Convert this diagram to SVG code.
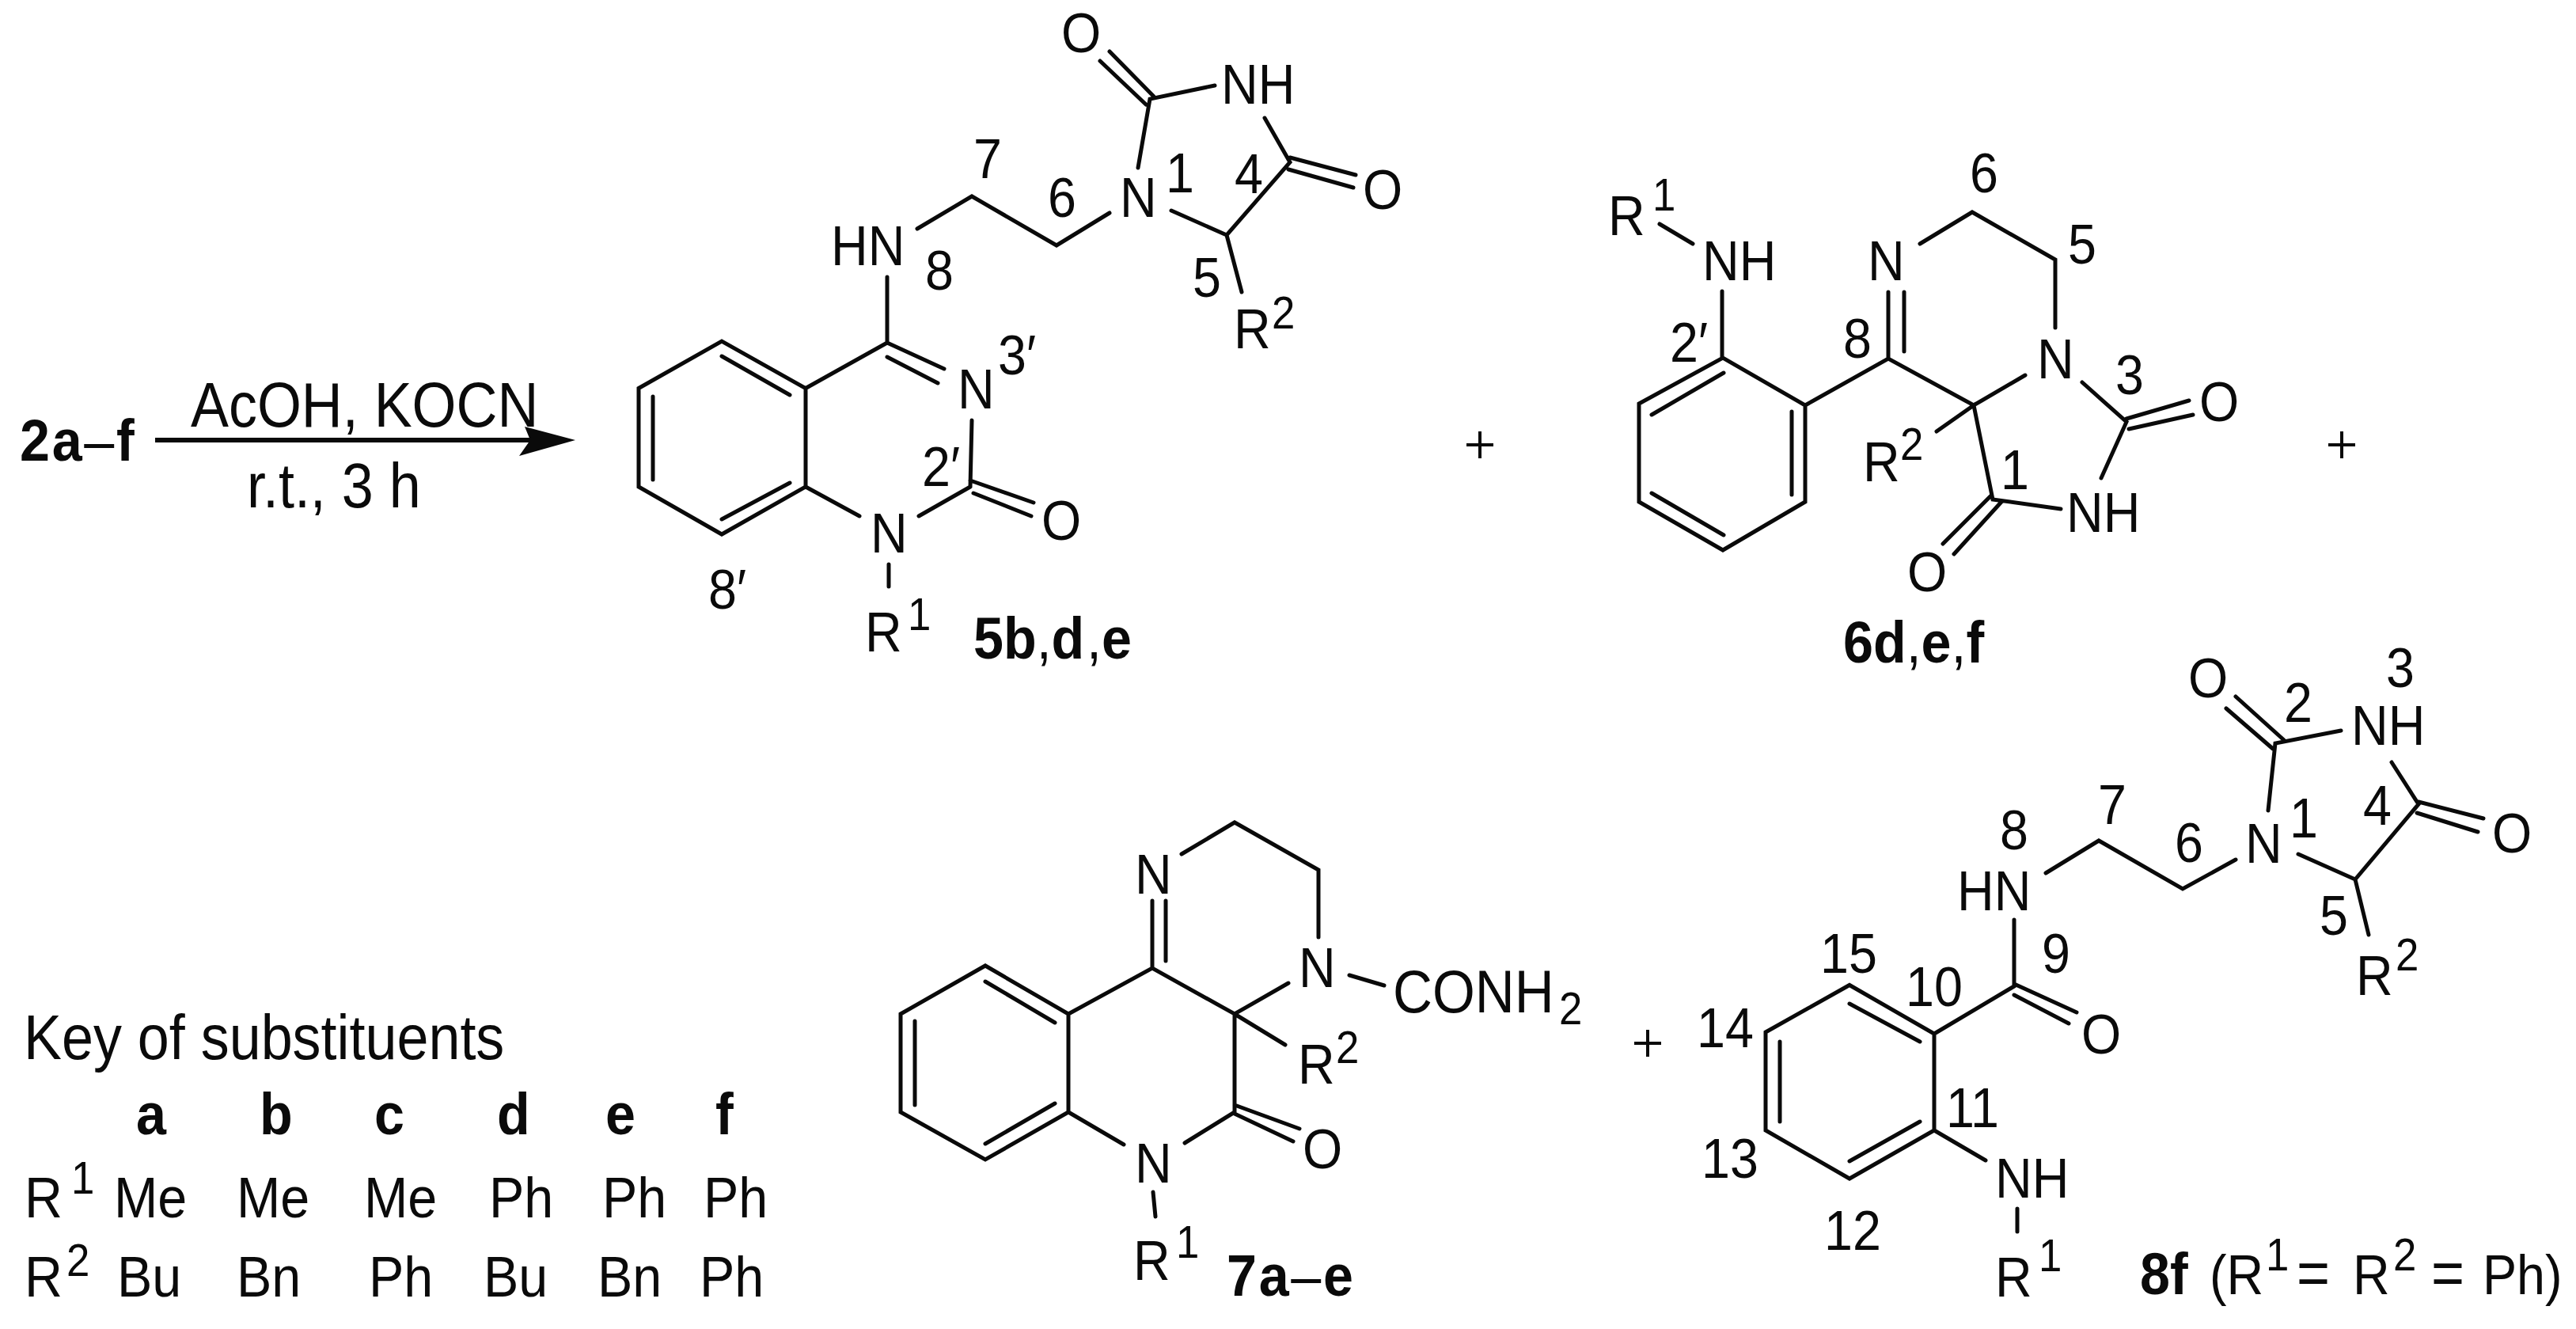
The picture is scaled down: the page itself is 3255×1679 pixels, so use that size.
<svg xmlns="http://www.w3.org/2000/svg" width="3255" height="1679" viewBox="0 0 3255 1679">
<style>
text{font-family:"Liberation Sans",Arial,sans-serif;font-size:71px;fill:#0a0a0a;transform-box:fill-box;transform-origin:0 0;transform:scaleX(.91)}
.b{font-weight:700;font-size:75px}
.ls{letter-spacing:3px}
.k{font-size:73px}
.r{font-size:79px}
.c{font-size:76px}
.n{font-weight:400}
.s{font-size:58px}
.bond{fill:none;stroke:#0a0a0a;stroke-width:5;stroke-linecap:round;stroke-linejoin:miter}
.arr{fill:none;stroke:#0a0a0a;stroke-width:6}
.plus{fill:none;stroke:#0a0a0a;stroke-width:4}
</style>
<rect width="3255" height="1679" fill="#fff"/>
<g id="connectors">
<path class="arr" d="M196 556H672"/>
<path d="M727 556L663 539L670 556L656 576Z" fill="#0a0a0a"/>
<path class="bond" d="M807 490.5L912 431L1018 490.5V615L912 675L807 615ZM825 501V606M912 450L998 499M912 656L998 610M1018 490.5L1121 433M1121 433L1193 466M1121 451L1185 484M1121 350V433M1228 531L1226 615M1226 607L1306 635M1230 623L1303 652M1018 615L1086 652M1226 615L1161 652M1123 713V741M1159 289L1228 248L1335 310L1402 269M1438 212L1453 125L1535 108M1390 77L1448 132M1402 65L1458 122M1598 149L1630 205L1550 297L1480 266M1630 199L1713 221M1628 214L1710 237M1550 297L1569 369"/>
<path class="bond" d="M2071 510L2177 452L2281 512V634L2177 695L2071 634ZM2178 471L2087 524M2264 520V625M2087 623L2178 676M2176 368V452M2097 283L2139 308M2281 512L2386 453L2494 512L2559 474M2386 369V453M2406 369V444M2426 308L2492 268L2597 328V414M2631 483L2687 533L2655 604M2687 529L2766 506M2690 542L2771 524M2604 643L2518 631L2494 512L2447 545M2515 627L2455 687M2529 634L2469 700"/>
<path class="bond" d="M1138 1281L1245 1220L1350 1281V1405L1245 1465L1138 1405ZM1245 1240L1333 1292M1156 1290V1396M1245 1445L1333 1394M1350 1281L1456 1223L1560 1281L1628 1242M1456 1138V1223M1473 1138V1214M1493 1079L1560 1039L1666 1099V1184M1705 1232L1749 1245M1560 1281L1624 1320M1560 1281V1405L1497 1444M1560 1396L1642 1426M1560 1407L1634 1442M1350 1405L1420 1446M1457 1506L1460 1537"/>
<path class="bond" d="M2231 1304L2337 1244.5L2444 1306V1428L2337 1489L2231 1428ZM2337 1268L2426 1316M2249 1316V1417M2337 1467L2426 1417M2444 1306L2545 1246V1162M2545 1243L2624 1279M2545 1257L2614 1293M2444 1428L2509 1466M2549 1527V1556M2585 1103L2652 1062L2758 1123L2825 1086M2866 1024L2875 939L2958 923M2813 895L2872 946M2825 880L2886 935M3022 963L3056 1016L2976 1111L2904 1079M3056 1013L3138 1034M3054 1027L3131 1051M2976 1111L2993 1181"/>
<path class="plus" d="M1853 562H1887M1870 545V579M2942 562H2976M2959 545V579M2065 1318H2099M2082 1301V1335"/>
</g>
<g id="reaction">
<text class="b ls" x="25" y="582">2a<tspan class="n">–</tspan>f</text>
<text class="r" x="241" y="539">AcOH, KOCN</text>
<text class="r" x="312" y="641">r.t., 3 h</text>
</g>
<g id="compound-5">
<text x="1050" y="335">HN</text><text x="1169" y="366">8</text><text x="1230" y="225">7</text><text x="1324" y="274">6</text>
<text x="1415" y="274">N</text><text x="1473" y="243">1</text><text x="1560" y="244">4</text><text x="1507" y="375">5</text>
<text x="1341" y="66">O</text><text x="1543" y="131">NH</text><text x="1722" y="264">O</text>
<text x="1559" y="440">R</text><text class="s" x="1607" y="415">2</text>
<text x="1210" y="516">N</text><text x="1261" y="473">3′</text><text x="1165" y="614">2′</text><text x="1316" y="682">O</text>
<text x="1100" y="698">N</text><text x="1093" y="823">R</text><text class="s" x="1147" y="796">1</text>
<text x="895" y="769">8′</text>
<text class="b" x="1230" y="832">5b<tspan class="n">,</tspan>d<tspan class="n" dx="3">,</tspan>e</text>
</g>
<g id="compound-6">
<text x="2032" y="297">R</text><text class="s" x="2088" y="266">1</text><text x="2151" y="354">NH</text><text x="2110" y="457">2′</text>
<text x="2360" y="354">N</text><text x="2329" y="452">8</text><text x="2489" y="243">6</text><text x="2613" y="333">5</text>
<text x="2574" y="478">N</text><text x="2673" y="498">3</text><text x="2779" y="532">O</text><text x="2611" y="672">NH</text>
<text x="2528" y="618">1</text><text x="2410" y="747">O</text><text x="2354" y="608">R</text><text class="s" x="2401" y="581">2</text>
<text class="b" x="2329" y="837">6d<tspan class="n">,</tspan>e<tspan class="n">,</tspan>f</text>
</g>
<g id="compound-7">
<text x="1434" y="1129">N</text><text x="1641" y="1247">N</text>
<text class="c" x="1760" y="1279">CONH</text><text class="s" x="1970" y="1294">2</text>
<text x="1640" y="1369">R</text><text class="s" x="1688" y="1343">2</text>
<text x="1646" y="1476">O</text><text x="1434" y="1494">N</text>
<text x="1432" y="1617">R</text><text class="s" x="1486" y="1589">1</text>
<text class="b ls" x="1550" y="1637">7a<tspan class="n">–</tspan>e</text>
</g>
<g id="compound-8">
<text x="2765" y="881">O</text><text x="2886" y="912">2</text><text x="3015" y="868">3</text><text x="2971" y="941">NH</text>
<text x="3149" y="1077">O</text><text x="2986" y="1042">4</text><text x="2893" y="1058">1</text><text x="2837" y="1090">N</text>
<text x="2931" y="1181">5</text><text x="2977" y="1257">R</text><text class="s" x="3027" y="1226">2</text>
<text x="2748" y="1089">6</text><text x="2651" y="1041">7</text><text x="2527" y="1073">8</text><text x="2473" y="1150">HN</text>
<text x="2580" y="1229">9</text><text x="2630" y="1331">O</text><text x="2408" y="1271">10</text><text x="2300" y="1229">15</text>
<text x="2144" y="1323">14</text><text x="2150" y="1488">13</text><text x="2305" y="1579">12</text><text x="2459" y="1424">11</text>
<text x="2521" y="1513">NH</text><text x="2521" y="1638">R</text><text class="s" x="2576" y="1606">1</text>
<text class="b" x="2704" y="1635">8f</text><text x="2792" y="1635">(R</text><text class="s" x="2863" y="1605">1</text>
<text class="r" x="2902" y="1635">=</text><text x="2973" y="1635">R</text><text class="s" x="3024" y="1605">2</text><text class="r" x="3072" y="1635">=</text><text x="3137" y="1635">Ph)</text>
</g>
<g id="key">
<text class="r" x="30" y="1338">Key of substituents</text>
<text class="b" x="172" y="1433">a</text><text class="b" x="328" y="1433">b</text><text class="b" x="473" y="1433">c</text><text class="b" x="628" y="1433">d</text><text class="b" x="765" y="1433">e</text><text class="b" x="904" y="1433">f</text>
<text class="k" x="31" y="1538">R</text><text class="s" x="90" y="1508">1</text>
<text class="k" x="144" y="1538">Me</text><text class="k" x="299" y="1538">Me</text><text class="k" x="460" y="1538">Me</text><text class="k" x="618" y="1538">Ph</text><text class="k" x="761" y="1538">Ph</text><text class="k" x="889" y="1538">Ph</text>
<text class="k" x="31" y="1638">R</text><text class="s" x="84" y="1612">2</text>
<text class="k" x="148" y="1638">Bu</text><text class="k" x="299" y="1638">Bn</text><text class="k" x="466" y="1638">Ph</text><text class="k" x="611" y="1638">Bu</text><text class="k" x="755" y="1638">Bn</text><text class="k" x="884" y="1638">Ph</text>
</g>
</svg>
